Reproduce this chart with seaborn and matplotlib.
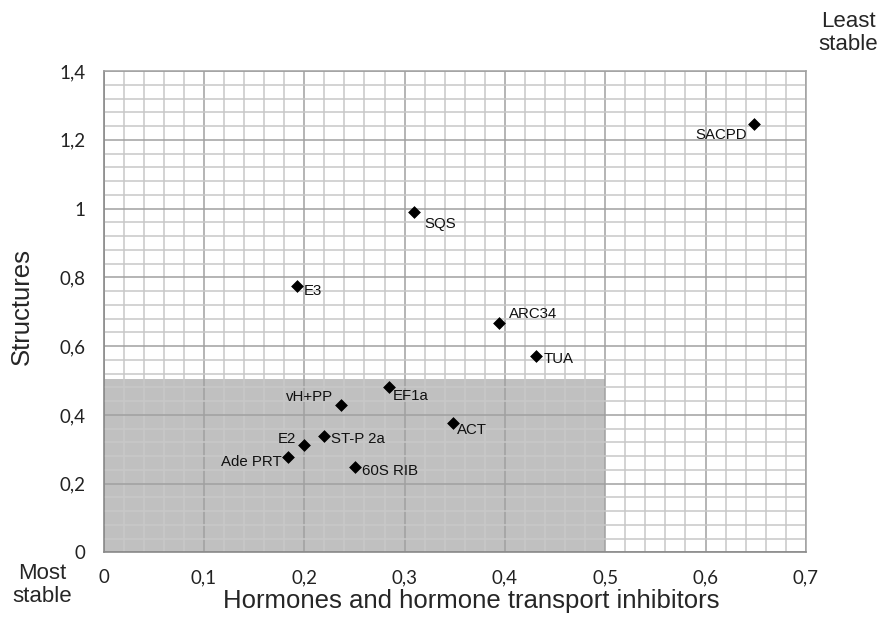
import numpy as np
import pandas as pd
import matplotlib
matplotlib.use("Agg")
import matplotlib.pyplot as plt
import seaborn as sns
from matplotlib.ticker import MultipleLocator, FuncFormatter

# DATA
genes = ["SACPD", "SQS", "E3", "ARC34", "TUA", "EF1a", "vH+PP",
         "ACT", "ST-P 2a", "E2", "Ade PRT", "60S RIB"]
hormones = [0.648, 0.309, 0.193, 0.394, 0.431, 0.284, 0.237,
            0.348, 0.220, 0.200, 0.184, 0.251]
structures = [1.245, 0.991, 0.775, 0.668, 0.571, 0.480, 0.428,
              0.376, 0.340, 0.312, 0.277, 0.249]
x_ticks = [0, 0.1, 0.2, 0.3, 0.4, 0.5, 0.6, 0.7]
y_ticks = [0, 0.2, 0.4, 0.6, 0.8, 1.0, 1.2, 1.4]
stable_box = (0.5, 0.505)  # most-stable region, x and y extent

# label placement: (dx px, dy px up, ha)
label_pos = {
    "SACPD": (-7, -11, "right"),
    "SQS": (11, -12, "left"),
    "E3": (6, -5, "left"),
    "ARC34": (10, 9, "left"),
    "TUA": (8, -3, "left"),
    "EF1a": (4, -9, "left"),
    "vH+PP": (-8, 8, "right"),
    "ACT": (4, -7, "left"),
    "ST-P 2a": (7, -3, "left"),
    "E2": (-8, 6, "right"),
    "Ade PRT": (-6, -5, "right"),
    "60S RIB": (7, -4, "left"),
}

df = pd.DataFrame({"gene": genes, "hormones": hormones, "structures": structures})

sns.set_style("white")
plt.rcParams["font.family"] = ["Liberation Sans", "DejaVu Sans"]

fig = plt.figure(figsize=(8.8, 6.2), dpi=100)
ax = fig.add_axes([0.1178, 0.1089, 0.7979, 0.7766])

ax.add_patch(plt.Rectangle((0, 0), stable_box[0], stable_box[1],
                           facecolor="#c0c0c0", edgecolor="none", zorder=0.1))

sns.scatterplot(data=df, x="hormones", y="structures", marker="D", s=36,
                color="black", edgecolor="black", linewidth=0.5, ax=ax,
                zorder=3, legend=False)

for g, xv, yv in zip(genes, hormones, structures):
    dx, dy, ha = label_pos[g]
    ax.annotate(g, (xv, yv), xytext=(dx * 0.72, dy * 0.72),
                textcoords="offset points", ha=ha, va="center",
                fontsize=10.8, color="#111111", zorder=4)

ax.set_xlim(0, 0.7)
ax.set_ylim(0, 1.4)
ax.set_xticks(x_ticks)
ax.set_yticks(y_ticks)
ax.xaxis.set_minor_locator(MultipleLocator(0.02))
ax.yaxis.set_minor_locator(MultipleLocator(0.04))
ax.set_axisbelow(True)
ax.grid(which="major", color="#a0a0a0", linewidth=1.1)
ax.grid(which="minor", color="#c8c8c8", linewidth=1.1)

fmt = FuncFormatter(lambda v, p: f"{v:.1f}".rstrip("0").rstrip(".").replace(".", ","))
ax.xaxis.set_major_formatter(fmt)
ax.yaxis.set_major_formatter(fmt)
ax.tick_params(which="major", direction="out", length=5, width=1, color="#8a8a8a",
               labelsize=13.5, labelcolor="#222222")
ax.tick_params(axis="x", which="major", pad=7)
ax.tick_params(axis="y", which="major", pad=8)
ax.tick_params(which="minor", length=0)
for lab in ax.get_xticklabels() + ax.get_yticklabels():
    lab.set_family(["Lato", "DejaVu Sans"])

for side in ["left", "bottom"]:
    ax.spines[side].set_color("#8a8a8a")
    ax.spines[side].set_linewidth(1.2)
for side in ["top", "right"]:
    ax.spines[side].set_color("#a0a0a0")
    ax.spines[side].set_linewidth(1.1)

ax.set_xlabel("Hormones and hormone transport inhibitors", fontsize=18.5)
ax.xaxis.set_label_coords(0.523, -0.076)
ax.set_ylabel("Structures", fontsize=18.5)
ax.yaxis.set_label_coords(-0.10, 0.51)

fig.text(42 / 880, 1 - 585 / 620, "Most\nstable", ha="center", va="center",
         fontsize=16, linespacing=1.15)
fig.text(848 / 880, 1 - 33 / 620, "Least\nstable", ha="center", va="center",
         fontsize=16, linespacing=1.15)

fig.savefig("out.png", dpi=100)
